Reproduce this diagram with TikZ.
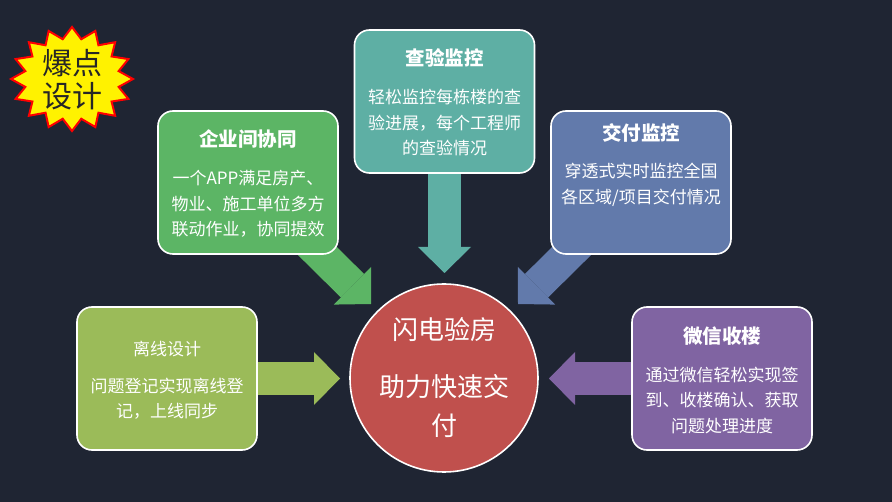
\documentclass[tikz,border=0pt]{standalone}
\usepackage{fontspec}
\setmainfont{Noto Sans CJK SC}
\usepackage{tikz}
\usetikzlibrary{arrows.meta,backgrounds}
\definecolor{night}{HTML}{1F2533}
\definecolor{leaf}{HTML}{5CB565}
\definecolor{jade}{HTML}{5EAFA4}
\definecolor{slate}{HTML}{627AAB}
\definecolor{moss}{HTML}{9BBB59}
\definecolor{plum}{HTML}{8064A2}
\definecolor{brick}{HTML}{C0504D}
\definecolor{inkdark}{HTML}{262626}
\tikzset{
  card/.style={draw=white,rounded corners=15pt,line width=1.6pt,minimum width=180pt,minimum height=143pt,inner sep=0pt},
  hub/.style={circle,draw=white,fill=brick,line width=1.6pt,minimum size=188pt,inner sep=0pt,text=white,align=center,font=\fontsize{26}{39}\selectfont},
  cardtitle/.style={text=white,font=\fontsize{19.5}{23}\selectfont\bfseries},
  cardtext/.style={text=white,align=center,font=\fontsize{17}{25.5}\selectfont},
  fat/.style={line width=33pt,-{Triangle[length=26pt,width=53pt,line width=0pt]}},
  burst/.style={fill=yellow,draw=red,line width=2pt,line join=miter},
  bursttext/.style={text=inkdark,align=center,font=\fontsize{30}{33}\selectfont},
}

\begin{document}
\begin{tikzpicture}[x=1pt,y=-1pt]
  \useasboundingbox (0,0) rectangle (892,502);
  % badge
  \draw[burst] plot[samples at={0,...,31}]
    ({72+(1-0.22*mod(\x,2))*61*cos(\x*11.25-90)},{79+(1-0.22*mod(\x,2))*52*sin(\x*11.25-90)}) -- cycle;
  \node[bursttext] (badge) at (72,79.5) {爆点\\设计};
  % cards
  \node[card,fill=leaf] (coop) at (248,182.5) {};
  \node[cardtitle] (cooptitle) at (248,139) {企业间协同};
  \node[cardtext] (coopbody) at (248,204) {一个APP满足房产、\\物业、施工单位多方\\联动作业，协同提效};
  \node[card,fill=jade] (check) at (444.5,101.5) {};
  \node[cardtitle] (checktitle) at (444.5,58) {查验监控};
  \node[cardtext] (checkbody) at (444.5,122.5) {轻松监控每栋楼的查\\验进展，每个工程师\\的查验情况};
  \node[card,fill=slate] (deliver) at (641,182.5) {};
  \node[cardtitle] (delivertitle) at (641,133) {交付监控};
  \node[cardtext] (deliverbody) at (641,185) {穿透式实时监控全国\\各区域/项目交付情况};
  \node[card,fill=moss] (offline) at (167,378.5) {};
  \node[cardtext] (offlinetitle) at (167,349) {离线设计};
  \node[cardtext] (offlinebody) at (167,398.5) {问题登记实现离线登\\记，上线同步};
  \node[card,fill=plum] (wechat) at (722,378.5) {};
  \node[cardtitle] (wechattitle) at (722,336) {微信收楼};
  \node[cardtext] (wechatbody) at (722,400) {通过微信轻松实现签\\到、收楼确认、获取\\问题处理进度};
  \node[hub] (hub) at (444,378) {闪电验房\\[18pt]助力快速交\\付};
  % arrow tips
  \coordinate (cooptip) at (371,304);
  \coordinate (checktip) at (444.5,273);
  \coordinate (delivertip) at (518,304);
  \coordinate (offlinetip) at (340,378.5);
  \coordinate (wechattip) at (549,378.5);
  \begin{scope}[on background layer]
    \fill[night] (0,0) rectangle (892,502);
    \draw[fat,leaf] (coop.center) -- (cooptip);
    \draw[fat,jade] (check.center) -- (checktip);
    \draw[fat,slate] (deliver.center) -- (delivertip);
    \draw[fat,moss] (offline.center) -- (offlinetip);
    \draw[fat,plum] (wechat.center) -- (wechattip);
  \end{scope}
\end{tikzpicture}
\end{document}
